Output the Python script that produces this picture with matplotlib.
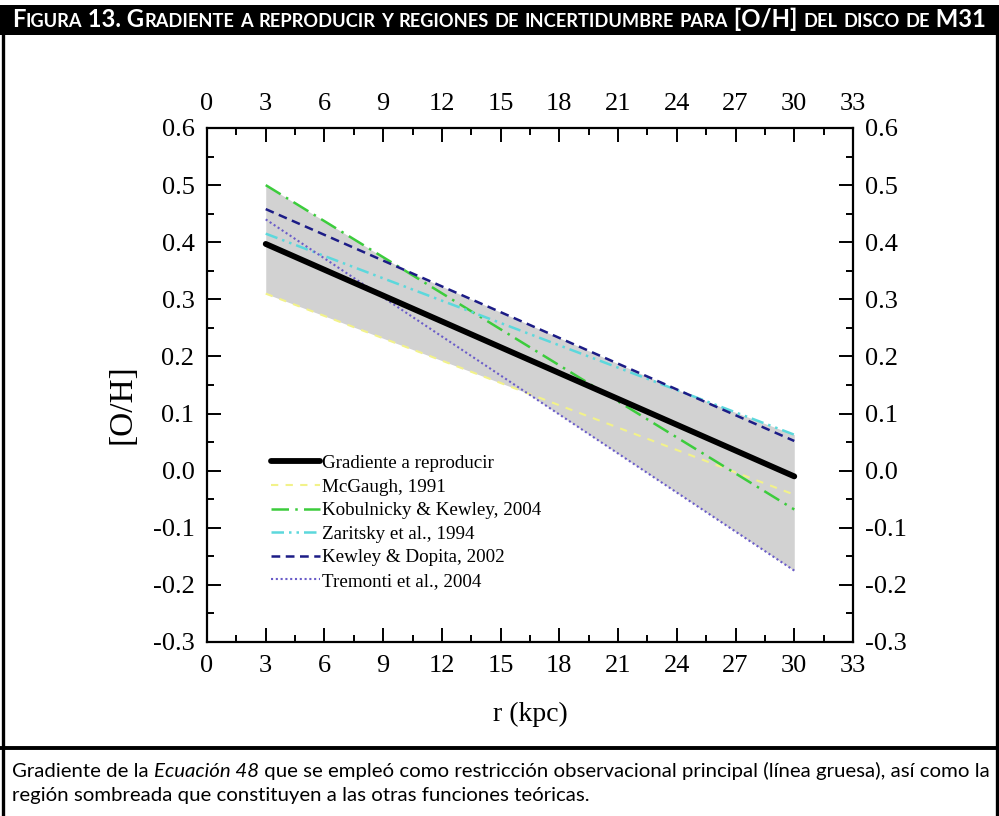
import numpy as np
import matplotlib
matplotlib.use('Agg')
import matplotlib.pyplot as plt
from matplotlib.transforms import IdentityTransform
from matplotlib.patches import Rectangle
from matplotlib.lines import Line2D

# Data (end points of each linear gradient)
r = [3, 30]
gradiente = [0.397, -0.010]
mcgaugh = [0.310, -0.042]
kobulnicky = [0.500, -0.068]
zaritsky = [0.415, 0.063]
kewley = [0.458, 0.052]
tremonti = [0.440, -0.175]

series_labels = ['Gradiente a reproducir', 'McGaugh, 1991', 'Kobulnicky & Kewley, 2004',
                 'Zaritsky et al., 1994', 'Kewley & Dopita, 2002', 'Tremonti et al., 2004']
x_ticks = [0, 3, 6, 9, 12, 15, 18, 21, 24, 27, 30, 33]
y_ticks = [-0.3, -0.2, -0.1, 0.0, 0.1, 0.2, 0.3, 0.4, 0.5, 0.6]

title = 'Figura 13. Gradiente a reproducir y regiones de incertidumbre para [O/H] del disco de M31'
caption = [('Gradiente de la ', 'normal'), ('Ecuación 48', 'italic'),
           (' que se empleó como restricción observacional principal (línea gruesa), así como la', 'normal')]
caption2 = 'región sombreada que constituyen a las otras funciones teóricas.'

W, H = 999, 816
fig = plt.figure(figsize=(W / 100, H / 100), dpi=100, facecolor='white')
renderer = fig.canvas.get_renderer()


def px(x, y):
    # pixel position measured from top-left
    return x, H - y


def draw_runs(runs, x0, y0, **kw):
    # runs: list of (text, fontsize, style); draws pieces one after the other
    texts = []
    x = x0
    for s, size, style in runs:
        t = fig.text(*px(x, y0), s, transform=IdentityTransform(), fontsize=size,
                     fontstyle=style, va='baseline', ha='left', **kw)
        x += t.get_window_extent(renderer).width
        texts.append(t)
    return texts, x - x0


def small_caps_runs(s, big, small):
    runs = []
    for ch in s:
        low = ch.islower()
        if runs and runs[-1][1] == low:
            runs[-1][0] += ch
        else:
            runs.append([ch, low])
    return [(t.upper(), small if low else big, 'normal') for t, low in runs]


# frame: header bar, side borders and caption separator
fig.patches.append(Rectangle(px(0, 35), W, 30, transform=IdentityTransform(),
                             facecolor='black', edgecolor='none'))
for xb in (2.5, W - 2.5):
    fig.lines.append(Line2D([xb, xb], [0, H - 34], transform=IdentityTransform(),
                            color='black', lw=2.4))
fig.lines.append(Line2D([0, W], [H - 748, H - 748], transform=IdentityTransform(),
                        color='black', lw=2.8))

# title in small caps, stretched to the header width
runs = small_caps_runs(title, 17, 13)
texts, w = draw_runs(runs, 12, 27, family='Lato', fontweight='bold', color='white')
k = 972 / w
for t in texts:
    t.remove()
runs = small_caps_runs(title, 17 * k, 13 * k)
draw_runs(runs, 12, 27, family='Lato', fontweight='bold', color='white')

# caption
cap_runs = [(s, 13, st) for s, st in caption]
texts, w = draw_runs(cap_runs, 12, 777, family='Lato', color='black')
k = 972 / w
for t in texts:
    t.remove()
draw_runs([(s, 13 * k, st) for s, st in caption], 12, 777, family='Lato', color='black')
fig.text(*px(12, 801), caption2, transform=IdentityTransform(), fontsize=13 * k,
         family='Lato', va='baseline', ha='left')

# main axes
ax = fig.add_axes([207 / W, 1 - 642 / H, (853 - 207) / W, (642 - 128) / H])
plt.rcParams['font.family'] = 'Liberation Serif'

styles = [
    dict(color='black', lw=4.2, ls='-', solid_capstyle='round'),
    dict(color='#f2f28a', lw=1.5, dashes=(3.5, 3.5)),
    dict(color='#3ccc3c', lw=1.8, dashes=(7, 2.5, 1, 2.5)),
    dict(color='#5cd8dc', lw=1.8, dashes=(5, 2, 1, 2, 1, 2)),
    dict(color='#1c1c86', lw=1.8, dashes=(3.5, 2.2)),
    dict(color='#6a5cc8', lw=1.5, dashes=(1, 1.3)),
]
all_series = [gradiente, mcgaugh, kobulnicky, zaritsky, kewley, tremonti]

# shaded uncertainty region between the extreme functions
xx = np.linspace(r[0], r[1], 300)
vals = np.array([np.interp(xx, r, s) for s in all_series])
ax.fill_between(xx, vals.min(axis=0), vals.max(axis=0), color='#d2d2d2', lw=0, zorder=1)

draw_order = [1, 2, 3, 4, 5, 0]
handles = {}
for i in draw_order:
    ln, = ax.plot(r, all_series[i], label=series_labels[i], zorder=3 if i else 4, **styles[i])
    handles[i] = ln

ax.set_xlim(0, 33)
ax.set_ylim(-0.3, 0.6)
ax.set_xticks(x_ticks)
ax.set_yticks(y_ticks)
ax.set_xticks(np.arange(0, 33.1, 1.5), minor=True)
ax.set_yticks(np.arange(-0.3, 0.61, 0.05), minor=True)
ax.set_yticklabels(['%.1f' % v for v in y_ticks])
ax.tick_params(which='both', direction='in', top=True, right=True,
               labeltop=True, labelright=True, labelsize=19, pad=9, width=1.4)
ax.tick_params(which='major', length=10)
ax.tick_params(which='minor', length=5)
for lab in ax.get_xticklabels() + ax.get_yticklabels():
    lab.set_family('Liberation Serif')
for sp in ax.spines.values():
    sp.set_linewidth(1.6)

ax.set_xlabel('r (kpc)', family='Liberation Serif', fontsize=20, labelpad=18)
ax.set_ylabel('[O/H]', family='Liberation Serif', fontsize=24)
ax.yaxis.set_label_coords(-0.107, 0.463)

leg = ax.legend([handles[i] for i in range(6)], series_labels, loc='upper left',
                bbox_to_anchor=(0.085, 0.383), frameon=False,
                prop={'family': 'Liberation Serif', 'size': 13.7},
                handlelength=2.55, handletextpad=0.12, labelspacing=0.33, borderpad=0)

fig.savefig('out.png', dpi=100, facecolor='white')
